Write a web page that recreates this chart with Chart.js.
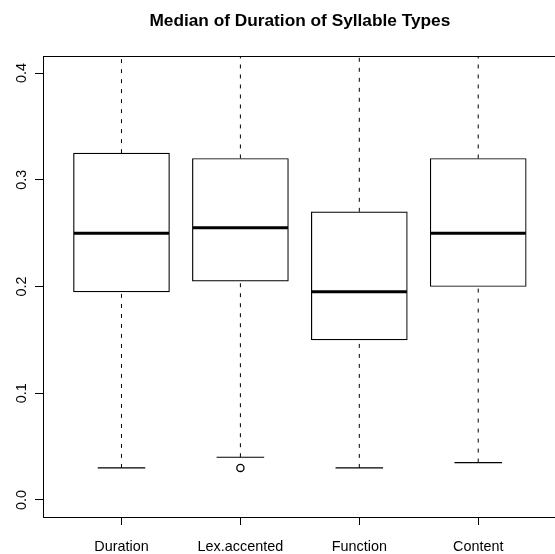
<!DOCTYPE html>
<html>
<head>
<meta charset="utf-8">
<script src="https://cdn.jsdelivr.net/npm/chart.js@4/dist/chart.umd.min.js"></script>
<style>
  html, body { margin: 0; padding: 0; background: #fff; overflow: hidden; }
  canvas { display: block; }
</style>
</head>
<body>
<canvas id="grafica" width="562" height="554"></canvas>
<script>
// datos del boxplot
const categorias = ["Duration", "Lex.accented", "Function", "Content"];
const bigoteInf = [0.03, 0.04, 0.03, 0.035];
const cuartil1 = [0.195, 0.205, 0.15, 0.2];
const medianas = [0.25, 0.255, 0.195, 0.25];
const cuartil3 = [0.325, 0.32, 0.27, 0.32];
const bigoteSup = [0.45, 0.45, 0.45, 0.45]; // se salen por arriba del grafico
const atipicos = [[], [0.03], [], []];
const ticksY = [0, 0.1, 0.2, 0.3, 0.4];

Chart.defaults.font.family = "'Liberation Sans', Arial, sans-serif";
Chart.defaults.color = "#000";

let cajas = [], lineaMed = [], bigotes = [], topes = [], puntos = [];
categorias.forEach((c, i) => {
    let x = i + 1;
    cajas.push({x: x, y: [cuartil1[i], cuartil3[i]]});
    lineaMed.push({x: x - 0.4, y: medianas[i]}, {x: x + 0.4, y: medianas[i]}, {x: x, y: null});
    bigotes.push({x: x, y: bigoteInf[i]}, {x: x, y: cuartil1[i]}, {x: x, y: null});
    bigotes.push({x: x, y: cuartil3[i]}, {x: x, y: bigoteSup[i]}, {x: x, y: null});
    topes.push({x: x - 0.2, y: bigoteInf[i]}, {x: x + 0.2, y: bigoteInf[i]}, {x: x, y: null});
    atipicos[i].forEach(v => puntos.push({x: x, y: v}));
});

// marco completo alrededor del area
const marco = {
    id: "marco",
    afterDraw(chart){
        let a = chart.chartArea, ctx = chart.ctx;
        ctx.save();
        ctx.strokeStyle = "#000";
        ctx.lineWidth = 1;
        ctx.strokeRect(Math.round(a.left) + 0.5, Math.round(a.top) + 0.5, Math.round(a.right - a.left), Math.round(a.bottom - a.top));
        ctx.restore();
    }
};

// etiquetas del eje y giradas como en R
const etiquetasY = {
    id: "etiquetasY",
    afterDraw(chart){
        let ctx = chart.ctx, esc = chart.scales.y;
        ctx.save();
        ctx.fillStyle = "#000";
        ctx.font = "14.4px 'Liberation Sans', Arial, sans-serif";
        ctx.textAlign = "center";
        ctx.textBaseline = "alphabetic";
        ticksY.forEach(v => {
            let y = esc.getPixelForValue(v);
            ctx.save();
            ctx.translate(26, y);
            ctx.rotate(-Math.PI / 2);
            ctx.fillText(v.toFixed(1), 0, 0);
            ctx.restore();
        });
        ctx.restore();
    }
};

new Chart(document.getElementById("grafica"), {
    type: "line",
    data: {
        datasets: [
            {
                type: "bar",
                label: "cajas",
                data: cajas,
                backgroundColor: "#fff",
                borderColor: "#000",
                borderWidth: 1.2,
                borderSkipped: false,
                barThickness: 96,
                order: 3
            },
            {
                label: "bigotes",
                data: bigotes,
                borderColor: "#000",
                borderWidth: 1,
                borderDash: [4, 6],
                pointRadius: 0,
                spanGaps: false,
                order: 4
            },
            {
                label: "topes",
                data: topes,
                borderColor: "#000",
                borderWidth: 1.2,
                pointRadius: 0,
                spanGaps: false,
                order: 2
            },
            {
                label: "medianas",
                data: lineaMed,
                borderColor: "#000",
                borderWidth: 3,
                pointRadius: 0,
                spanGaps: false,
                order: 1
            },
            {
                type: "scatter",
                label: "atipicos",
                data: puntos,
                pointStyle: "circle",
                pointRadius: 3.6,
                pointBackgroundColor: "#fff",
                pointBorderColor: "#000",
                pointBorderWidth: 1.3,
                showLine: false,
                order: 0
            }
        ]
    },
    options: {
        responsive: false,
        animation: false,
        events: [],
        layout: { padding: { left: 0, right: 3, top: 0, bottom: 0 } },
        plugins: {
            legend: { display: false },
            tooltip: { enabled: false },
            title: {
                display: true,
                text: "Median of Duration of Syllable Types",
                fullSize: false,
                color: "#000",
                font: { size: 17.28, weight: "bold" },
                padding: { top: 10.6, bottom: 24.7 }
            }
        },
        scales: {
            x: {
                type: "linear",
                position: "bottom",
                min: 0.34,
                max: 4.66,
                offset: false,
                afterBuildTicks: s => { s.ticks = categorias.map((c, i) => ({value: i + 1})); },
                afterFit: s => { s.height = 37; },
                ticks: {
                    autoSkip: false,
                    maxRotation: 0,
                    padding: 13,
                    font: { size: 14.4 },
                    color: "#000",
                    callback: v => categorias[v - 1]
                },
                grid: { drawOnChartArea: false, offset: false, tickLength: 8, color: "#000", lineWidth: 1 },
                border: { display: true, color: "#000", width: 1 }
            },
            y: {
                type: "linear",
                position: "left",
                min: -0.016,
                max: 0.416,
                afterBuildTicks: s => { s.ticks = ticksY.map(v => ({value: v})); },
                afterFit: s => { s.width = 43; },
                ticks: { display: false },
                grid: { drawOnChartArea: false, tickLength: 8, color: "#000", lineWidth: 1 },
                border: { display: true, color: "#000", width: 1 }
            }
        }
    },
    plugins: [marco, etiquetasY]
});
</script>
</body>
</html>
